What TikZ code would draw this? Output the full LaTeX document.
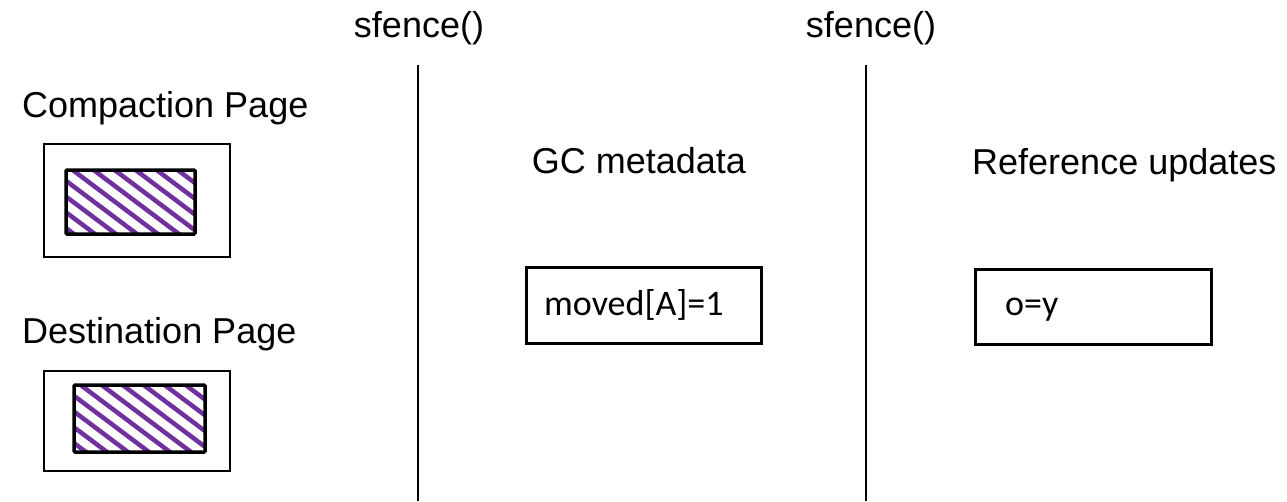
\documentclass[tikz,border=0pt]{standalone}
\usepackage{fontspec}
\setmainfont{Liberation Sans}
\newfontfamily\boxfont{Carlito}
\definecolor{hatch}{HTML}{7030A0}
\begin{document}
\begin{tikzpicture}[x=1pt,y=-1pt,
  title/.style={font=\fontsize{36}{42}\selectfont, inner sep=0pt},
  page/.style={draw=black, line width=2.5pt},
  inner/.style={draw=black, line width=3.5pt, rounded corners=1pt},
  valbox/.style={draw=black, line width=2.5pt},
  divider/.style={draw=black, line width=1.8pt},
  stripe/.style={draw=hatch, line width=4.5pt},
  boxtext/.style={font=\boxfont\fontsize{36}{42}\selectfont, inner sep=0pt, anchor=base west}]
\useasboundingbox (0,0) rectangle (1287,501);
% titles
\node[title, anchor=base] (sf1) at (419,37) {sfence()};
\node[title, anchor=base] (sf2) at (871,37) {sfence()};
\node[title, anchor=base west] (cp) at (22,117) {Compaction Page};
\node[title, anchor=base west] (dp) at (22,343) {Destination Page};
\node[title, anchor=base] (gc) at (639,173) {GC metadata};
\node[title, anchor=base west] (ru) at (972,174) {Reference updates};
% dividers
\coordinate (d1t) at (418,65); \coordinate (d1b) at (418,501);
\coordinate (d2t) at (866,65); \coordinate (d2b) at (866,501);
\draw[divider] (d1t) -- (d1b);
\draw[divider] (d2t) -- (d2b);
% compaction page
\draw[page] (44,144) rectangle (230,257);
\begin{scope}
  \clip (66,170) rectangle (195,234);
  \foreach \i in {-6,...,10} {
    \draw[stripe] (66+21*\i,165) -- ++(100,75);
  }
\end{scope}
\draw[inner] (66,170) rectangle (195,234);
% destination page
\draw[page] (44,371) rectangle (230,471);
\begin{scope}
  \clip (74,385) rectangle (205,452);
  \foreach \i in {-6,...,10} {
    \draw[stripe] (74+21*\i,380) -- ++(100,75);
  }
\end{scope}
\draw[inner] (74,385) rectangle (205,452);
% value boxes
\node[valbox, minimum width=235pt, minimum height=76pt, anchor=north west] (mv) at (525,266) {};
\node[boxtext] (mvt) at (544,315) {moved[A]=1};
\node[valbox, minimum width=236pt, minimum height=75pt, anchor=north west] (oy) at (974,268) {};
\node[boxtext] (oyt) at (1005,315) {o=y};
\end{tikzpicture}
\end{document}
